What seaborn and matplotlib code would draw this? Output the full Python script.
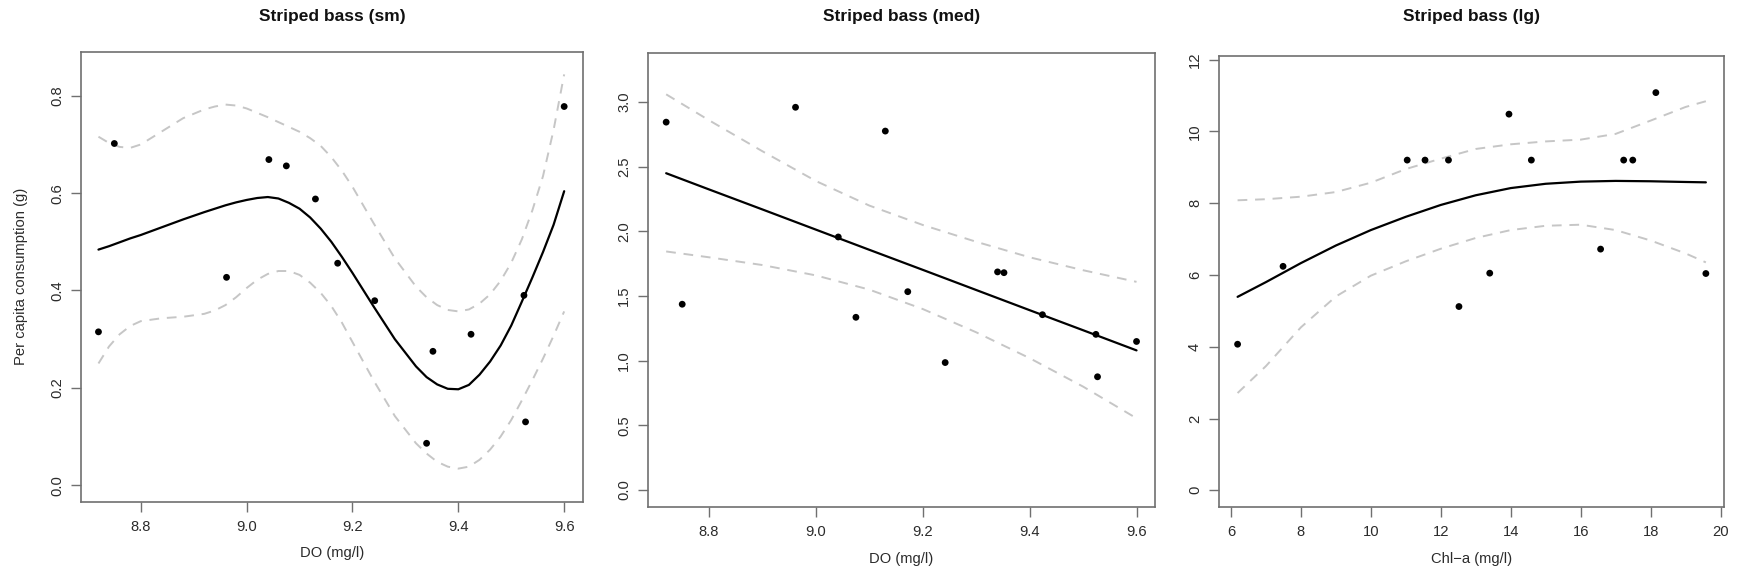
import matplotlib
matplotlib.use("Agg")
import matplotlib.pyplot as plt
import seaborn as sns

# observations (sm and med were sampled on the same DO values)
do_obs = [8.72, 8.75, 8.962, 9.042, 9.075, 9.130, 9.172, 9.242, 9.340, 9.352, 9.424, 9.524, 9.527, 9.60]
sm_obs = [0.315, 0.702, 0.427, 0.669, 0.656, 0.588, 0.456, 0.379, 0.086, 0.275, 0.310, 0.390, 0.130, 0.778]
med_obs = [2.845, 1.437, 2.960, 1.957, 1.336, 2.776, 1.534, 0.986, 1.687, 1.681, 1.356, 1.204, 0.876, 1.149]

chl_obs = [6.19, 7.49, 11.04, 11.55, 12.22, 12.52, 13.40, 13.95, 14.59, 16.57, 17.23, 17.49, 18.15, 19.58]
lg_obs = [4.07, 6.24, 9.20, 9.20, 9.20, 5.12, 6.05, 10.48, 9.20, 6.72, 9.20, 9.20, 11.08, 6.04]

# fitted curves and confidence limits
sm_grid = [8.72, 8.74, 8.76, 8.78, 8.80, 8.84, 8.88, 8.92, 8.94, 8.96, 8.98, 9.00, 9.02, 9.04, 9.06,
           9.08, 9.10, 9.12, 9.14, 9.16, 9.18, 9.20, 9.24, 9.28, 9.32, 9.34, 9.36, 9.38, 9.40, 9.42,
           9.44, 9.46, 9.48, 9.50, 9.52, 9.54, 9.56, 9.58, 9.60]
sm_fit = [0.484, 0.491, 0.499, 0.507, 0.514, 0.530, 0.546, 0.561, 0.568, 0.575, 0.581, 0.586, 0.590,
          0.592, 0.589, 0.580, 0.568, 0.550, 0.527, 0.500, 0.469, 0.436, 0.367, 0.300, 0.244, 0.222,
          0.207, 0.198, 0.197, 0.206, 0.227, 0.254, 0.287, 0.328, 0.377, 0.427, 0.479, 0.535, 0.604]
sm_upper = [0.716, 0.703, 0.695, 0.693, 0.700, 0.727, 0.754, 0.772, 0.778, 0.782, 0.780, 0.774, 0.765,
            0.756, 0.746, 0.736, 0.726, 0.713, 0.697, 0.674, 0.646, 0.613, 0.538, 0.466, 0.408, 0.386,
            0.370, 0.360, 0.357, 0.361, 0.373, 0.392, 0.420, 0.457, 0.505, 0.565, 0.635, 0.730, 0.844]
sm_lower = [0.250, 0.285, 0.310, 0.327, 0.337, 0.343, 0.346, 0.352, 0.359, 0.370, 0.386, 0.405, 0.422,
            0.434, 0.440, 0.440, 0.432, 0.416, 0.395, 0.368, 0.334, 0.294, 0.215, 0.142, 0.086, 0.065,
            0.048, 0.038, 0.034, 0.038, 0.052, 0.073, 0.100, 0.134, 0.174, 0.216, 0.260, 0.307, 0.357]

med_grid = [8.72, 8.80, 8.90, 9.00, 9.10, 9.20, 9.30, 9.40, 9.50, 9.60]
med_fit = [2.450, 2.325, 2.170, 2.014, 1.858, 1.703, 1.547, 1.391, 1.236, 1.080]
med_upper = [3.06, 2.86, 2.62, 2.39, 2.20, 2.05, 1.92, 1.80, 1.70, 1.61]
med_lower = [1.845, 1.80, 1.74, 1.66, 1.55, 1.40, 1.22, 1.02, 0.80, 0.555]

lg_grid = [6.19, 7, 8, 9, 10, 11, 12, 13, 14, 15, 16, 17, 18, 19, 19.58]
lg_fit = [5.39, 5.80, 6.33, 6.82, 7.25, 7.62, 7.95, 8.22, 8.42, 8.54, 8.60, 8.62, 8.61, 8.59, 8.58]
lg_upper = [8.08, 8.11, 8.18, 8.31, 8.57, 8.95, 9.24, 9.51, 9.64, 9.72, 9.77, 9.93, 10.30, 10.68, 10.84]
lg_lower = [2.71, 3.46, 4.54, 5.40, 5.98, 6.38, 6.73, 7.03, 7.25, 7.37, 7.40, 7.25, 6.96, 6.60, 6.35]

do_ticks = [8.8, 9.0, 9.2, 9.4, 9.6]
sm_ticks = [0.0, 0.2, 0.4, 0.6, 0.8]
med_ticks = [0.0, 0.5, 1.0, 1.5, 2.0, 2.5, 3.0]
chl_ticks = [6, 8, 10, 12, 14, 16, 18, 20]
lg_ticks = [0, 2, 4, 6, 8, 10, 12]

titles = ["Striped bass (sm)", "Striped bass (med)", "Striped bass (lg)"]
xlabels = ["DO (mg/l)", "DO (mg/l)", "Chl\u2212a (mg/l)"]

sns.set_style("ticks")
plt.rcParams['font.family'] = ['Liberation Sans', 'DejaVu Sans']

W, H = 1743, 582
fig = plt.figure(figsize=(W / 100, H / 100), dpi=100)

# axes boxes in pixels: left, top, right, bottom
boxes = [(81, 52, 582.7, 501.7), (648, 52.7, 1154.7, 507), (1218.7, 56, 1723.7, 507)]
axes = [fig.add_axes([l / W, 1 - b / H, (r - l) / W, (b - t) / H]) for l, t, r, b in boxes]

frame = '#707070'
txt = '#2b2b2b'


def draw_panel(ax, x_obs, y_obs, grid, fit, upper, lower):
    for band in (upper, lower):
        sns.lineplot(x=grid, y=band, ax=ax, color='#c6c6c6', lw=1.4,
                     linestyle=(0, (5, 4)), estimator=None)
    sns.lineplot(x=grid, y=fit, ax=ax, color='black', lw=1.6, estimator=None)
    sns.scatterplot(x=x_obs, y=y_obs, ax=ax, color='black', s=24,
                    edgecolor='none', zorder=5)


draw_panel(axes[0], do_obs, sm_obs, sm_grid, sm_fit, sm_upper, sm_lower)
draw_panel(axes[1], do_obs, med_obs, med_grid, med_fit, med_upper, med_lower)
draw_panel(axes[2], chl_obs, lg_obs, lg_grid, lg_fit, lg_upper, lg_lower)

axes[0].set_xlim(8.687, 9.635)
axes[0].set_ylim(-0.034, 0.890)
axes[0].set_xticks(do_ticks, [f"{v:.1f}" for v in do_ticks])
axes[0].set_yticks(sm_ticks, [f"{v:.1f}" for v in sm_ticks])

axes[1].set_xlim(8.686, 9.634)
axes[1].set_ylim(-0.131, 3.382)
axes[1].set_xticks(do_ticks, [f"{v:.1f}" for v in do_ticks])
axes[1].set_yticks(med_ticks, [f"{v:.1f}" for v in med_ticks])

axes[2].set_xlim(5.65, 20.09)
axes[2].set_ylim(-0.465, 12.1)
axes[2].set_xticks(chl_ticks, [str(v) for v in chl_ticks])
axes[2].set_yticks(lg_ticks, [str(v) for v in lg_ticks])

for ax, (l, t, r, b), title, xl in zip(axes, boxes, titles, xlabels):
    for sp in ax.spines.values():
        sp.set_color(frame)
        sp.set_linewidth(1.2)
    ax.tick_params(direction='out', length=7, width=1, color=frame,
                   labelsize=10.6, labelcolor=txt, pad=6)
    ax.tick_params(axis='y', pad=5)
    for lab in ax.get_yticklabels():
        lab.set_rotation(90)
        lab.set_va('center')
    ax.set_xlabel(xl, fontsize=10.6, color=txt, labelpad=9)
    ax.set_ylabel('')
    fig.text((l + r) / 2 / W, 1 - 16.6 / H, title, ha='center', va='center',
             fontsize=12.5, fontweight='bold', color='#111111')

axes[0].set_ylabel("Per capita consumption (g)", fontsize=10.6, color=txt, labelpad=16)

fig.savefig("out.png", dpi=100)
